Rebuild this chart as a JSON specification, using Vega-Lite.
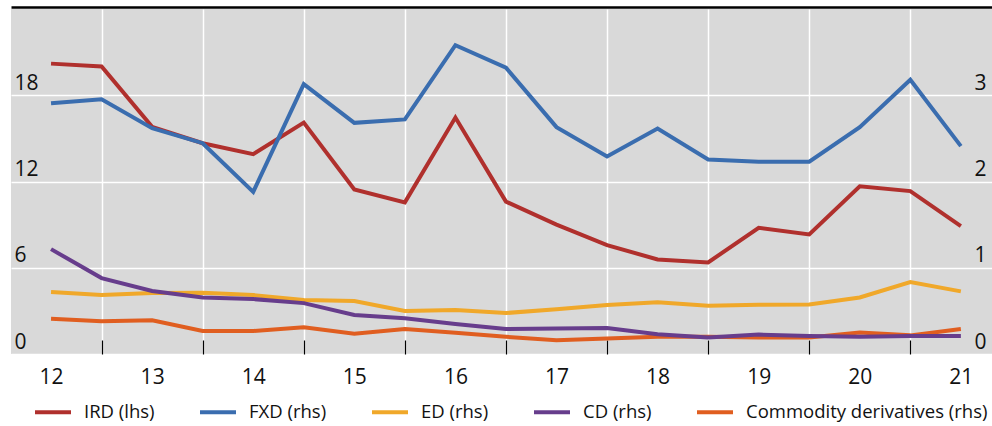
{
  "$schema": "https://vega.github.io/schema/vega-lite/v6.json",
  "width": 981,
  "height": 345,
  "autosize": "none",
  "padding": {"left": 11, "top": 9, "right": 0, "bottom": 72},
  "background": "white",
  "config": {
    "view": {"fill": "#d9d9d9", "stroke": null},
    "font": "Open Sans",
    "axis": {"labelColor": "#111111", "labelFontSize": 21, "labelFont": "Open Sans"}
  },
  "datasets": {
    "d": [
      {"t": 12.0, "series": "IRD (lhs)", "value": 20.2},
      {"t": 12.5, "series": "IRD (lhs)", "value": 20.0},
      {"t": 13.0, "series": "IRD (lhs)", "value": 15.8},
      {"t": 13.5, "series": "IRD (lhs)", "value": 14.66},
      {"t": 14.0, "series": "IRD (lhs)", "value": 13.9},
      {"t": 14.5, "series": "IRD (lhs)", "value": 16.1},
      {"t": 15.0, "series": "IRD (lhs)", "value": 11.45},
      {"t": 15.5, "series": "IRD (lhs)", "value": 10.55},
      {"t": 16.0, "series": "IRD (lhs)", "value": 16.45},
      {"t": 16.5, "series": "IRD (lhs)", "value": 10.6},
      {"t": 17.0, "series": "IRD (lhs)", "value": 9.0},
      {"t": 17.5, "series": "IRD (lhs)", "value": 7.57},
      {"t": 18.0, "series": "IRD (lhs)", "value": 6.58},
      {"t": 18.5, "series": "IRD (lhs)", "value": 6.37},
      {"t": 19.0, "series": "IRD (lhs)", "value": 8.78},
      {"t": 19.5, "series": "IRD (lhs)", "value": 8.32},
      {"t": 20.0, "series": "IRD (lhs)", "value": 11.67},
      {"t": 20.5, "series": "IRD (lhs)", "value": 11.33},
      {"t": 21.0, "series": "IRD (lhs)", "value": 8.9},

      {"t": 12.0, "series": "FXD (rhs)", "value": 2.907},
      {"t": 12.5, "series": "FXD (rhs)", "value": 2.954},
      {"t": 13.0, "series": "FXD (rhs)", "value": 2.618},
      {"t": 13.5, "series": "FXD (rhs)", "value": 2.444},
      {"t": 14.0, "series": "FXD (rhs)", "value": 1.88},
      {"t": 14.5, "series": "FXD (rhs)", "value": 3.128},
      {"t": 15.0, "series": "FXD (rhs)", "value": 2.68},
      {"t": 15.5, "series": "FXD (rhs)", "value": 2.72},
      {"t": 16.0, "series": "FXD (rhs)", "value": 3.58},
      {"t": 16.5, "series": "FXD (rhs)", "value": 3.32},
      {"t": 17.0, "series": "FXD (rhs)", "value": 2.63},
      {"t": 17.5, "series": "FXD (rhs)", "value": 2.29},
      {"t": 18.0, "series": "FXD (rhs)", "value": 2.614},
      {"t": 18.5, "series": "FXD (rhs)", "value": 2.255},
      {"t": 19.0, "series": "FXD (rhs)", "value": 2.23},
      {"t": 19.5, "series": "FXD (rhs)", "value": 2.23},
      {"t": 20.0, "series": "FXD (rhs)", "value": 2.63},
      {"t": 20.5, "series": "FXD (rhs)", "value": 3.18},
      {"t": 21.0, "series": "FXD (rhs)", "value": 2.41},

      {"t": 12.0, "series": "ED (rhs)", "value": 0.72},
      {"t": 12.5, "series": "ED (rhs)", "value": 0.683},
      {"t": 13.0, "series": "ED (rhs)", "value": 0.706},
      {"t": 13.5, "series": "ED (rhs)", "value": 0.71},
      {"t": 14.0, "series": "ED (rhs)", "value": 0.683},
      {"t": 14.5, "series": "ED (rhs)", "value": 0.625},
      {"t": 15.0, "series": "ED (rhs)", "value": 0.614},
      {"t": 15.5, "series": "ED (rhs)", "value": 0.5},
      {"t": 16.0, "series": "ED (rhs)", "value": 0.51},
      {"t": 16.5, "series": "ED (rhs)", "value": 0.475},
      {"t": 17.0, "series": "ED (rhs)", "value": 0.52},
      {"t": 17.5, "series": "ED (rhs)", "value": 0.568},
      {"t": 18.0, "series": "ED (rhs)", "value": 0.6},
      {"t": 18.5, "series": "ED (rhs)", "value": 0.56},
      {"t": 19.0, "series": "ED (rhs)", "value": 0.57},
      {"t": 19.5, "series": "ED (rhs)", "value": 0.575},
      {"t": 20.0, "series": "ED (rhs)", "value": 0.656},
      {"t": 20.5, "series": "ED (rhs)", "value": 0.834},
      {"t": 21.0, "series": "ED (rhs)", "value": 0.726},

      {"t": 12.0, "series": "Commodity derivatives (rhs)", "value": 0.408},
      {"t": 12.5, "series": "Commodity derivatives (rhs)", "value": 0.38},
      {"t": 13.0, "series": "Commodity derivatives (rhs)", "value": 0.39},
      {"t": 13.5, "series": "Commodity derivatives (rhs)", "value": 0.266},
      {"t": 14.0, "series": "Commodity derivatives (rhs)", "value": 0.266},
      {"t": 14.5, "series": "Commodity derivatives (rhs)", "value": 0.31},
      {"t": 15.0, "series": "Commodity derivatives (rhs)", "value": 0.235},
      {"t": 15.5, "series": "Commodity derivatives (rhs)", "value": 0.29},
      {"t": 16.0, "series": "Commodity derivatives (rhs)", "value": 0.245},
      {"t": 16.5, "series": "Commodity derivatives (rhs)", "value": 0.2},
      {"t": 17.0, "series": "Commodity derivatives (rhs)", "value": 0.16},
      {"t": 17.5, "series": "Commodity derivatives (rhs)", "value": 0.18},
      {"t": 18.0, "series": "Commodity derivatives (rhs)", "value": 0.2},
      {"t": 18.5, "series": "Commodity derivatives (rhs)", "value": 0.2},
      {"t": 19.0, "series": "Commodity derivatives (rhs)", "value": 0.19},
      {"t": 19.5, "series": "Commodity derivatives (rhs)", "value": 0.19},
      {"t": 20.0, "series": "Commodity derivatives (rhs)", "value": 0.25},
      {"t": 20.5, "series": "Commodity derivatives (rhs)", "value": 0.216},
      {"t": 21.0, "series": "Commodity derivatives (rhs)", "value": 0.29},

      {"t": 12.0, "series": "CD (rhs)", "value": 1.216},
      {"t": 12.5, "series": "CD (rhs)", "value": 0.88},
      {"t": 13.0, "series": "CD (rhs)", "value": 0.73},
      {"t": 13.5, "series": "CD (rhs)", "value": 0.656},
      {"t": 14.0, "series": "CD (rhs)", "value": 0.637},
      {"t": 14.5, "series": "CD (rhs)", "value": 0.59},
      {"t": 15.0, "series": "CD (rhs)", "value": 0.452},
      {"t": 15.5, "series": "CD (rhs)", "value": 0.415},
      {"t": 16.0, "series": "CD (rhs)", "value": 0.347},
      {"t": 16.5, "series": "CD (rhs)", "value": 0.29},
      {"t": 17.0, "series": "CD (rhs)", "value": 0.295},
      {"t": 17.5, "series": "CD (rhs)", "value": 0.3},
      {"t": 18.0, "series": "CD (rhs)", "value": 0.23},
      {"t": 18.5, "series": "CD (rhs)", "value": 0.19},
      {"t": 19.0, "series": "CD (rhs)", "value": 0.225},
      {"t": 19.5, "series": "CD (rhs)", "value": 0.21},
      {"t": 20.0, "series": "CD (rhs)", "value": 0.2},
      {"t": 20.5, "series": "CD (rhs)", "value": 0.21},
      {"t": 21.0, "series": "CD (rhs)", "value": 0.21}
    ]
  },
  "data": {"name": "d"},
  "layer": [
    {
      "transform": [{"filter": "datum.series === 'IRD (lhs)'"}],
      "mark": {"type": "line", "strokeWidth": 4, "strokeJoin": "miter", "strokeCap": "butt"},
      "encoding": {
        "x": {
          "field": "t", "type": "quantitative",
          "scale": {"domain": [11.604, 21.308], "nice": false, "zero": false},
          "axis": {
            "orient": "bottom",
            "title": null,
            "values": [12, 12.5, 13, 13.5, 14, 14.5, 15, 15.5, 16, 16.5, 17, 17.5, 18, 18.5, 19, 19.5, 20, 20.5, 21],
            "labelExpr": "datum.value % 1 === 0 ? format(datum.value, 'd') : ''",
            "grid": false,
            "domain": false,
            "ticks": true,
            "tickSize": -14,
            "tickWidth": 1.2,
            "tickColor": {"condition": {"test": "datum.value % 1 === 0", "value": "transparent"}, "value": "#000000"},
            "labelPadding": 26,
            "labelFlush": false,
            "labelOverlap": false,
            "labelBound": false
          }
        },
        "y": {
          "field": "value", "type": "quantitative",
          "scale": {"domain": [0, 24], "nice": false},
          "axis": {
            "orient": "left",
            "title": null,
            "values": [0, 6, 12, 18],
            "grid": true,
            "gridColor": "#ffffff",
            "gridWidth": 1.5,
            "gridOpacity": 1,
            "domain": false,
            "ticks": false,
            "labelAlign": "left",
            "labelBaseline": "alphabetic",
            "labelPadding": -3,
            "labelOffset": -6,
            "labelFlush": false,
            "labelOverlap": false,
            "labelBound": false
          }
        },
        "color": {
          "field": "series", "type": "nominal",
          "scale": {
            "domain": ["IRD (lhs)", "FXD (rhs)", "ED (rhs)", "CD (rhs)", "Commodity derivatives (rhs)"],
            "range": ["#b0302d", "#3a6daf", "#f0a82a", "#673d8c", "#e05e20"]
          },
          "legend": {
            "title": null,
            "orient": "none",
            "direction": "horizontal",
            "legendX": 22,
            "legendY": 383,
            "padding": 0,
            "symbolType": "stroke",
            "symbolSize": 1296,
            "symbolStrokeWidth": 4,
            "labelFontSize": 18.5,
            "labelFont": "Open Sans",
            "labelColor": "#111111",
            "labelOffset": 11,
            "columnPadding": 37,
            "labelLimit": 0
          }
        }
      }
    },
    {
      "transform": [{"filter": "datum.series !== 'IRD (lhs)'"}],
      "mark": {"type": "line", "strokeWidth": 4, "strokeJoin": "miter", "strokeCap": "butt"},
      "encoding": {
        "x": {
          "field": "t", "type": "quantitative",
          "axis": {
            "orient": "top",
            "title": null,
            "values": [12.5, 13.5, 14.5, 15.5, 16.5, 17.5, 18.5, 19.5, 20.5],
            "grid": true,
            "gridColor": "#ffffff",
            "gridWidth": 1.5,
            "gridOpacity": 1,
            "ticks": false,
            "labels": false,
            "domain": true,
            "domainColor": "#000000",
            "domainWidth": 2.5,
            "offset": 2
          }
        },
        "y": {
          "field": "value", "type": "quantitative",
          "scale": {"domain": [0, 4], "nice": false},
          "axis": {
            "orient": "right",
            "title": null,
            "values": [0, 1, 2, 3],
            "grid": false,
            "domain": false,
            "ticks": false,
            "labelAlign": "right",
            "labelBaseline": "alphabetic",
            "labelPadding": -6,
            "labelOffset": -6,
            "labelFlush": false,
            "labelOverlap": false,
            "labelBound": false
          }
        },
        "color": {"field": "series", "type": "nominal"}
      }
    }
  ],
  "resolve": {"scale": {"y": "independent"}, "axis": {"x": "independent"}}
}
